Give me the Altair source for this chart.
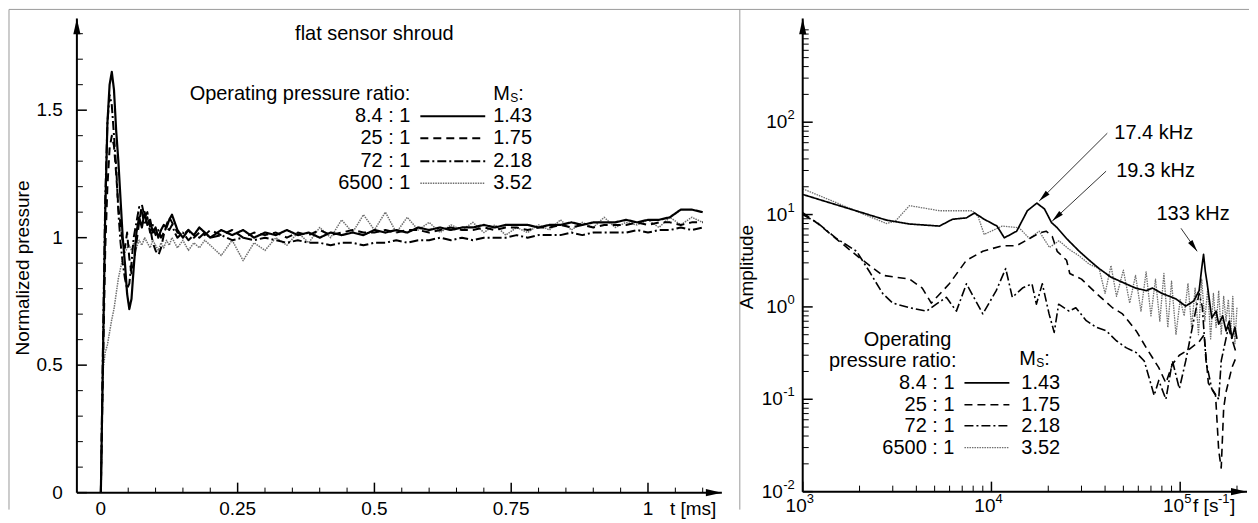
import altair as alt
import pandas as pd

FONT = "Liberation Sans"

# ---------------- left panel: normalized pressure vs. time ----------------
t_ms = [0.000, 0.004, 0.008, 0.012, 0.016, 0.020, 0.024, 0.028, 0.032, 0.036, 0.040, 0.044, 0.048, 0.052, 0.056, 0.060,
        0.065, 0.070, 0.075, 0.080, 0.085, 0.090, 0.095, 0.100, 0.105, 0.110, 0.115, 0.120, 0.125, 0.130, 0.135, 0.140,
        0.150, 0.160, 0.170, 0.180, 0.190, 0.200,
        0.22, 0.24, 0.26, 0.28, 0.30, 0.32, 0.34, 0.36, 0.38, 0.40, 0.42, 0.44, 0.46, 0.48, 0.50, 0.52, 0.54, 0.56,
        0.58, 0.60, 0.62, 0.64, 0.66, 0.68, 0.70, 0.72, 0.74, 0.76, 0.78, 0.80, 0.82, 0.84, 0.86, 0.88, 0.90, 0.92,
        0.94, 0.96, 0.98, 1.00, 1.02, 1.04, 1.06, 1.08, 1.10]

p_8_4 = [0.00, 0.55, 1.10, 1.45, 1.60, 1.65, 1.58, 1.42, 1.30, 1.15, 1.00, 0.90, 0.78, 0.72, 0.76, 0.88,
         1.02, 1.08, 1.04, 1.10, 1.05, 1.07, 1.02, 1.04, 1.00, 1.03, 1.05, 1.04, 1.07, 1.09, 1.06, 1.03,
         1.00, 1.03, 1.01, 1.04, 1.02, 1.00,
         1.03, 1.01, 1.03, 1.00, 1.02, 1.01, 1.03, 1.01, 1.02, 1.00, 1.02, 1.01, 1.02, 1.01, 1.03, 1.02, 1.03, 1.02,
         1.04, 1.03, 1.04, 1.03, 1.04, 1.04, 1.05, 1.04, 1.05, 1.05, 1.05, 1.04, 1.05, 1.05, 1.06, 1.05, 1.06, 1.06,
         1.06, 1.07, 1.06, 1.07, 1.07, 1.08, 1.11, 1.11, 1.10]

p_25 = [0.00, 0.50, 0.95, 1.20, 1.35, 1.40, 1.36, 1.25, 1.12, 1.05, 0.98, 0.96, 1.02, 0.92, 0.86, 0.90,
        0.98, 1.06, 1.13, 1.08, 1.10, 1.04, 0.98, 0.95, 0.93, 0.96, 1.01, 1.05, 1.08, 1.06, 1.04, 1.02,
        1.01, 1.03, 1.00, 1.02, 1.01, 1.03,
        1.01, 1.03, 1.00, 1.02, 1.01, 1.02, 1.00, 1.02, 1.01, 1.03, 1.01, 1.02, 1.03, 1.02, 1.02, 1.03, 1.02, 1.03,
        1.03, 1.02, 1.03, 1.04, 1.03, 1.03, 1.04, 1.03, 1.04, 1.04, 1.03, 1.04, 1.04, 1.05, 1.04, 1.05, 1.04, 1.05,
        1.05, 1.05, 1.06, 1.05, 1.06, 1.06, 1.05, 1.06, 1.06]

p_72 = [0.00, 0.60, 1.15, 1.45, 1.56, 1.52, 1.40, 1.28, 1.10, 0.98, 0.90, 0.84, 0.80, 0.82, 0.90, 1.00,
        1.06, 1.12, 1.10, 1.05, 1.08, 1.02, 1.05, 1.01, 1.03, 1.00, 1.02, 1.04, 1.03, 1.05, 1.02, 1.00,
        1.02, 0.99, 1.01, 1.00, 1.02, 1.00,
        1.01, 0.99, 1.00, 0.99, 1.00, 0.99, 0.98, 0.99, 0.98, 0.98, 0.97, 0.98, 0.98, 0.97, 0.98, 0.98, 0.99, 0.98,
        0.99, 0.99, 1.00, 0.99, 1.00, 0.99, 1.00, 1.00, 1.00, 1.01, 1.00, 1.01, 1.01, 1.01, 1.02, 1.01, 1.02, 1.02,
        1.02, 1.02, 1.03, 1.02, 1.03, 1.03, 1.04, 1.03, 1.04]

p_6500 = [0.00, 0.48, 0.55, 0.58, 0.63, 0.68, 0.72, 0.78, 0.84, 0.88, 0.92, 0.94, 0.96, 0.97, 0.95, 0.98,
          0.96, 0.99, 0.97, 1.00, 0.98, 0.96, 0.99, 0.97, 0.95, 0.98, 0.96, 0.99, 0.97, 1.00, 0.98, 0.96,
          0.99, 0.95, 0.98, 0.96, 0.99, 0.97,
          0.93, 0.99, 0.91, 0.98, 0.95, 1.00, 0.97, 1.02, 0.98, 1.04, 1.00, 1.07, 1.02, 1.09, 1.03, 1.10, 1.02, 1.08,
          1.03, 1.06, 1.02, 1.05, 1.03, 1.06, 1.02, 1.05, 1.01, 1.04, 1.02, 1.05, 1.03, 1.07, 1.03, 1.06, 1.04, 1.08,
          1.04, 1.06, 1.05, 1.07, 1.04, 1.08, 1.05, 1.08, 1.06]

# ---------------- right panel: amplitude spectra ----------------
f_8_4 = [1000, 2780, 3680, 5300, 6220, 7370, 8130, 9150, 10700, 11700, 13600, 15500, 17400, 19100, 20800,
         22300, 25000, 29200, 33000, 37200, 43000, 51500, 58000, 66200, 71200, 80000, 88000, 95000, 107000,
         118000, 126000, 130000, 133000, 136000, 139000, 147000, 155000, 160000, 168000, 175000, 182000,
         188000, 195000, 200000]
a_8_4 = [16.5, 8.7, 7.9, 7.5, 8.9, 9.2, 10.4, 8.9, 7.5, 5.6, 6.6, 11.0, 13.3, 11.5, 8.2,
         7.2, 5.5, 4.0, 3.2, 2.6, 2.1, 1.78, 1.6, 1.5, 1.6, 1.4, 1.3, 1.22, 1.02,
         1.16, 1.5, 2.6, 3.7, 2.4, 1.8, 0.76, 0.9, 0.65, 0.8, 0.55, 0.7,
         0.46, 0.6, 0.45]

f_25 = [1000, 1200, 1500, 2000, 2650, 3680, 4300, 4800, 5980, 7370, 9000, 11400, 13600, 15900, 17900,
        19500, 21000, 22300, 25000, 26000, 30000, 36000, 43800, 49500, 58500, 66200, 71500, 77000, 84000,
        91000, 99000, 112000, 126000, 134000, 141000, 154000, 160000, 165000, 170000, 175000, 188000, 200000]
a_25 = [10.5, 8.0, 5.5, 3.4, 2.2, 2.0, 1.6, 1.1, 1.78, 3.2, 4.0, 4.6, 4.6, 5.5, 6.3,
        6.6, 5.8, 4.0, 3.2, 2.3, 2.0, 1.4, 0.98, 0.84, 0.55, 0.36, 0.28, 0.22, 0.15,
        0.24, 0.30, 0.35, 0.42, 0.5, 0.15, 0.11, 0.028, 0.018, 0.08, 0.12, 0.22, 0.3]

f_72 = [1000, 1190, 1510, 1930, 2260, 2650, 3000, 3680, 4530, 5100, 5770, 6520, 7370, 9000, 10600,
        11900, 12900, 14600, 16400, 17300, 18600, 20200, 21500, 22700, 25800, 28000, 31800, 36000, 40600,
        45900, 51900, 58500, 64500, 68500, 72800, 77000, 84000, 91000, 99000, 107000, 116000, 126000,
        131000, 137000, 147000, 160000, 165000, 180000, 197000]
a_72 = [10.0, 8.2, 5.5, 4.0, 2.4, 1.4, 1.1, 0.98, 0.9, 1.07, 1.27, 0.9, 1.78, 0.84, 1.5,
        2.6, 1.27, 1.6, 1.78, 1.07, 1.78, 0.84, 0.53, 1.07, 0.9, 0.98, 0.71, 0.6, 0.55,
        0.43, 0.36, 0.32, 0.26, 0.17, 0.11, 0.16, 0.10, 0.26, 0.13, 0.26, 0.6, 1.4,
        1.0, 0.26, 0.13, 0.1, 0.26, 0.6, 0.33]

f_6500 = [1000, 1570, 2000, 2780, 3100, 3680, 5300, 7900, 8500, 9150, 11400, 14000, 15900, 17900, 20300,
          22800, 25800, 29000, 33000, 37200, 40000, 43000, 46000, 50000, 54000, 58000, 62000, 66000, 70000,
          74000, 78000, 82000, 86000, 90000, 95000, 100000, 105000, 110000, 115000, 120000, 125000, 130000,
          135000, 140000, 145000, 150000, 155000, 160000, 165000, 170000, 175000, 180000, 185000, 190000,
          195000, 200000]
a_6500 = [19, 13, 10.5, 8.0, 8.5, 12.5, 11, 11, 9.5, 6.1, 7.5, 7.2, 5.5, 6.6, 4.4,
          5.2, 4.2, 3.6, 2.9, 2.6, 1.4, 2.8, 1.3, 2.5, 1.1, 2.2, 0.9, 2.4, 0.8,
          2.0, 0.7, 2.3, 0.6, 1.9, 0.5, 1.2, 0.8, 1.8, 0.6, 1.6, 0.5, 2.0,
          0.7, 1.6, 0.45, 1.4, 0.6, 1.5, 0.5, 1.3, 0.7, 1.2, 0.5, 1.3,
          0.4, 1.0]

series_names = ["8.4 : 1", "25 : 1", "72 : 1", "6500 : 1"]
mach_numbers = ["1.43", "1.75", "2.18", "3.52"]

# tick values and labels
left_x_major = [0, 0.25, 0.5, 0.75, 1]
left_x_minor = [0.05, 0.1, 0.15, 0.2, 0.3, 0.35, 0.4, 0.45, 0.55, 0.6, 0.65, 0.7, 0.8, 0.85, 0.9, 0.95, 1.05, 1.1]
left_y_major = [0, 0.5, 1, 1.5]
left_y_minor = [0.1, 0.2, 0.3, 0.4, 0.6, 0.7, 0.8, 0.9, 1.1, 1.2, 1.3, 1.4, 1.6, 1.7, 1.8]
right_x_major = [1000, 10000, 100000]
right_x_exp = ["3", "4", "5"]
right_x_minor = [2000, 3000, 4000, 5000, 6000, 7000, 8000, 9000,
                 20000, 30000, 40000, 50000, 60000, 70000, 80000, 90000, 200000]
right_y_major = [0.01, 0.1, 1, 10, 100]
right_y_exp = ["-2", "-1", "0", "1", "2"]
right_y_minor = [0.02, 0.03, 0.04, 0.05, 0.06, 0.07, 0.08, 0.09,
                 0.2, 0.3, 0.4, 0.5, 0.6, 0.7, 0.8, 0.9,
                 2, 3, 4, 5, 6, 7, 8, 9,
                 20, 30, 40, 50, 60, 70, 80, 90,
                 200, 300, 400, 500, 600, 700, 800, 900, 1000]

# peak annotations (data coordinates)
ann_labels = ["17.4 kHz", "19.3 kHz", "133 kHz"]
ann_text_f = [44800, 45800, 117000]
ann_text_a = [76, 29.5, 10.1]
ann_align = ["left", "left", "center"]
arrow_f0 = [41100, 40500, 101000]
arrow_a0 = [76, 29.5, 7.1]
arrow_f1 = [17900, 21000, 123000]
arrow_a1 = [14.0, 8.5, 4.0]
arrow_angle = [225, 227, 145]

# ---------------- styles & layout ----------------
STYLE = {
    "8.4 : 1": dict(color="#000000", strokeDash=[1, 0]),
    "25 : 1": dict(color="#000000", strokeDash=[8, 5]),
    "72 : 1": dict(color="#000000", strokeDash=[9, 3, 2, 3]),
    "6500 : 1": dict(color="#6e6e6e", strokeDash=[1.5, 1]),
}
WIDTH_L = {"8.4 : 1": 2.2, "25 : 1": 2.0, "72 : 1": 2.0, "6500 : 1": 1.5}
WIDTH_R = {"8.4 : 1": 1.7, "25 : 1": 1.6, "72 : 1": 1.6, "6500 : 1": 1.3}

WL, HL = 646, 475
WR, HR = 445, 474
ARROW_UP = "M0,0L-0.45,2L0.45,2Z"
ONE = pd.DataFrame({"k": [0]})
TICK_FS = 19

sxL = alt.Scale(domain=[-0.0438, 1.135], nice=False, zero=False)
syL = alt.Scale(domain=[0, 1.86], nice=False, zero=False)
sxR = alt.Scale(type="log", domain=[1000, 226000], nice=False)
syR = alt.Scale(type="log", domain=[0.01, 1330], nice=False)


def text_at(txt, x, y, size=20, align="left", color="black", angle=0):
    return alt.Chart(ONE).mark_text(text=txt, font=FONT, fontSize=size, align=align, angle=angle,
                                    baseline="middle", color=color).encode(x=alt.value(x), y=alt.value(y))


def seg(x1, y1, x2, y2, color="black", width=1.0):
    return alt.Chart(ONE).mark_rule(color=color, strokeWidth=width).encode(
        x=alt.value(x1), y=alt.value(y1), x2=alt.value(x2), y2=alt.value(y2))


def ms_header(x, y):
    return [text_at("M", x, y), text_at("S", x + 17, y + 4, size=12), text_at(":", x + 25, y)]


def legend_rows(label_x, line_x1, line_x2, value_x, ys, widths):
    layers = []
    for name, m, y in zip(series_names, mach_numbers, ys):
        st = STYLE[name]
        layers.append(text_at(name, label_x, y, align="right"))
        layers.append(alt.Chart(ONE).mark_rule(color=st["color"], strokeDash=st["strokeDash"],
                                                strokeWidth=widths[name]).encode(
            x=alt.value(line_x1), x2=alt.value(line_x2), y=alt.value(y)))
        layers.append(text_at(m, value_x, y))
    return layers


def tick_layer(vals, field, scale, orient, length, width, h):
    df = pd.DataFrame({field: vals})
    base = alt.Chart(df).mark_rule(color="black", strokeWidth=width)
    if orient == "y":
        return base.encode(y=alt.Y(f"{field}:Q", scale=scale, axis=None),
                           x=alt.value(0), x2=alt.value(length))
    return base.encode(x=alt.X(f"{field}:Q", scale=scale, axis=None),
                       y=alt.value(h), y2=alt.value(h - length))


def axis_frame(w, h):
    # axis lines with arrow heads (Tecplot style)
    return [
        seg(0, 0, 0, h, width=2), seg(0, h, w, h, width=2),
        alt.Chart(ONE).mark_point(shape=ARROW_UP, size=256, filled=True, color="black", opacity=1,
                                  angle=0).encode(x=alt.value(0), y=alt.value(0)),
        alt.Chart(ONE).mark_point(shape=ARROW_UP, size=256, filled=True, color="black", opacity=1,
                                  angle=90).encode(x=alt.value(w), y=alt.value(h)),
    ]


# ---------------- left chart ----------------
left_series = {"8.4 : 1": p_8_4, "25 : 1": p_25, "72 : 1": p_72, "6500 : 1": p_6500}
left_layers = []
for name in ["6500 : 1", "72 : 1", "25 : 1", "8.4 : 1"]:
    df = pd.DataFrame({"t": t_ms, "p": left_series[name]})
    st = STYLE[name]
    left_layers.append(
        alt.Chart(df).mark_line(clip=True, color=st["color"], strokeDash=st["strokeDash"],
                                strokeWidth=WIDTH_L[name], strokeJoin="round").encode(
            x=alt.X("t:Q", scale=sxL, axis=None), y=alt.Y("p:Q", scale=syL, axis=None)))
# frame (figure border and panel divider)
left_layers += [seg(-68, -9, 1174, -9, color="#9a9a9a"), seg(-68, -9, -68, 492, color="#9a9a9a"),
                seg(664, -9, 664, 492, color="#9a9a9a")]
left_layers += axis_frame(WL, HL)
left_layers += [tick_layer(left_y_major, "p", syL, "y", 10, 1.5, HL),
                tick_layer(left_y_minor, "p", syL, "y", 6, 1, HL),
                tick_layer(left_x_major, "t", sxL, "x", 10, 1.5, HL),
                tick_layer(left_x_minor, "t", sxL, "x", 5, 1, HL)]
# tick labels
left_layers.append(alt.Chart(pd.DataFrame({"t": left_x_major})).mark_text(
    font=FONT, fontSize=TICK_FS, align="center", baseline="middle", color="black").encode(
    x=alt.X("t:Q", scale=sxL, axis=None), y=alt.value(HL + 16), text=alt.Text("t:Q", format="~g")))
left_layers.append(alt.Chart(pd.DataFrame({"p": left_y_major})).mark_text(
    font=FONT, fontSize=TICK_FS, align="right", baseline="middle", color="black").encode(
    x=alt.value(-14), y=alt.Y("p:Q", scale=syL, axis=None), text=alt.Text("p:Q", format="~g")))
left_layers.append(text_at("t [ms]", 594, HL + 16, size=TICK_FS))
left_layers.append(text_at("Normalized pressure", -54, 250, size=TICK_FS, align="center", angle=270))
left_layers.append(text_at("flat sensor shroud", 298, 16, align="center"))
left_layers.append(text_at("Operating pressure ratio:", 334, 76, align="right"))
left_layers += ms_header(417, 76)
left_layers += legend_rows(334, 344, 409, 417, [98, 120, 143, 165], WIDTH_L)
left = alt.layer(*left_layers).properties(width=WL, height=HL)

# ---------------- right chart ----------------
right_series = {"8.4 : 1": (f_8_4, a_8_4), "25 : 1": (f_25, a_25), "72 : 1": (f_72, a_72),
                "6500 : 1": (f_6500, a_6500)}
right_layers = []
for name in ["6500 : 1", "72 : 1", "25 : 1", "8.4 : 1"]:
    fv, av = right_series[name]
    df = pd.DataFrame({"f": fv, "A": av})
    st = STYLE[name]
    right_layers.append(
        alt.Chart(df).mark_line(clip=True, color=st["color"], strokeDash=st["strokeDash"],
                                strokeWidth=WIDTH_R[name], strokeJoin="round").encode(
            x=alt.X("f:Q", scale=sxR, axis=None), y=alt.Y("A:Q", scale=syR, axis=None)))
right_layers += axis_frame(WR, HR)
right_layers += [tick_layer(right_y_major, "A", syR, "y", 10, 1.5, HR),
                 tick_layer(right_y_minor, "A", syR, "y", 6, 1, HR),
                 tick_layer(right_x_major, "f", sxR, "x", 10, 1.5, HR),
                 tick_layer(right_x_minor, "f", sxR, "x", 6, 1, HR)]
# decade tick labels: "10" with a raised exponent
xlab = pd.DataFrame({"f": right_x_major, "base": ["10"] * len(right_x_major), "exp": right_x_exp})
right_layers.append(alt.Chart(xlab).mark_text(font=FONT, fontSize=TICK_FS, align="right", baseline="middle",
                                              dx=4, color="black").encode(
    x=alt.X("f:Q", scale=sxR, axis=None), y=alt.value(HR + 14), text="base:N"))
right_layers.append(alt.Chart(xlab).mark_text(font=FONT, fontSize=13, align="left", baseline="middle",
                                              dx=4, dy=-7, color="black").encode(
    x=alt.X("f:Q", scale=sxR, axis=None), y=alt.value(HR + 14), text="exp:N"))
for val, ex in zip(right_y_major, right_y_exp):
    d = pd.DataFrame({"A": [val], "exp": [ex], "base": ["10"]})
    shift = 12 if len(ex) > 1 else 7.5
    right_layers.append(alt.Chart(d).mark_text(font=FONT, fontSize=13, align="right", baseline="middle",
                                               dy=-7, color="black").encode(
        x=alt.value(-8), y=alt.Y("A:Q", scale=syR, axis=None), text="exp:N"))
    right_layers.append(alt.Chart(d).mark_text(font=FONT, fontSize=TICK_FS, align="right", baseline="middle",
                                               color="black").encode(
        x=alt.value(-8 - shift), y=alt.Y("A:Q", scale=syR, axis=None), text="base:N"))
right_layers += [text_at("f [s", 391, HR + 14, size=TICK_FS), text_at("-1", 416, HR + 7, size=13),
                 text_at("]", 428, HR + 14, size=TICK_FS)]
right_layers.append(text_at("Amplitude", -56, 249, size=TICK_FS, align="center", angle=270))

ann_df = pd.DataFrame({"label": ann_labels, "f": ann_text_f, "A": ann_text_a, "align": ann_align,
                       "f0": arrow_f0, "a0": arrow_a0, "f1": arrow_f1, "a1": arrow_a1,
                       "ang": arrow_angle})
right_layers.append(alt.Chart(ann_df).mark_rule(color="#333333", strokeWidth=1).encode(
    x=alt.X("f0:Q", scale=sxR, axis=None), y=alt.Y("a0:Q", scale=syR, axis=None),
    x2="f1:Q", y2="a1:Q"))
right_layers.append(alt.Chart(ann_df).mark_point(shape=ARROW_UP, size=144, filled=True, color="black",
                                                 opacity=1).encode(
    x=alt.X("f1:Q", scale=sxR, axis=None), y=alt.Y("a1:Q", scale=syR, axis=None),
    angle=alt.Angle("ang:Q", scale=None)))
for lab, fx, ay, al in zip(ann_labels, ann_text_f, ann_text_a, ann_align):
    right_layers.append(alt.Chart(pd.DataFrame({"f": [fx], "A": [ay]})).mark_text(
        text=lab, font=FONT, fontSize=20, align=al, baseline="middle", color="black").encode(
        x=alt.X("f:Q", scale=sxR, axis=None), y=alt.Y("A:Q", scale=syR, axis=None)))

right_layers.append(text_at("Operating", 149, 322, align="right"))
right_layers.append(text_at("pressure ratio:", 154, 343, align="right"))
right_layers += ms_header(217, 341)
right_layers += legend_rows(152, 162, 207, 219, [365, 387, 408, 430], WIDTH_R)
right = alt.layer(*right_layers).properties(width=WR, height=HR)

chart = alt.hconcat(left, right, spacing=81, bounds="flush").properties(padding=0).configure_view(
    stroke=None)

chart.save("out.html", embed_options={"renderer": "svg", "actions": False})
